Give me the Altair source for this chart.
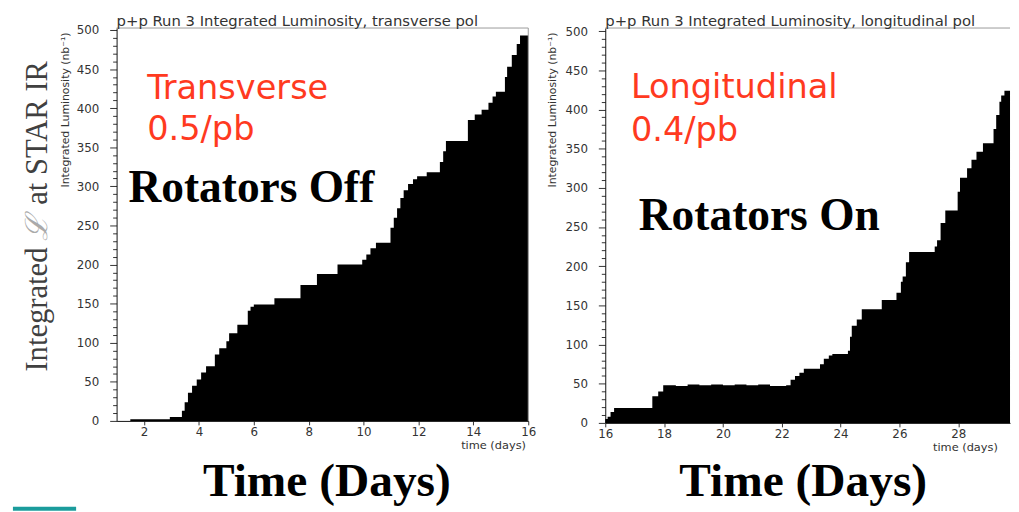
import altair as alt
import pandas as pd

# ---------------- data ----------------
# Transverse polarisation run (left panel): step start day, integrated luminosity (nb^-1)
trans_day = [1.50, 2.94, 3.38, 3.48, 3.60, 3.75, 3.92, 4.08, 4.26, 4.58,
             4.74, 5.00, 5.10, 5.40, 5.78, 5.88, 6.00, 6.75, 7.70, 8.30,
             9.05, 9.95, 10.10, 10.25, 10.45, 10.98, 11.10, 11.22, 11.34, 11.46,
             11.62, 11.80, 11.95, 12.30, 12.78, 12.90, 13.00, 13.80, 14.05, 14.30,
             14.55, 14.70, 14.82, 15.15, 15.23, 15.40, 15.58, 15.70, 16.00]
trans_lumi = [2, 5, 13, 24, 36, 45, 53, 62, 70, 85,
              93, 102, 112, 123, 141, 146, 149, 157, 174, 188,
              200, 206, 213, 221, 228, 247, 260, 272, 285, 295,
              303, 309, 313, 318, 331, 345, 358, 385, 392, 398,
              407, 415, 421, 440, 453, 468, 482, 493, 493]

# Longitudinal polarisation run (right panel)
long_day = [16.00, 16.08, 16.18, 16.30, 17.60, 17.80, 17.97, 18.40, 18.80, 19.20,
            19.60, 20.00, 20.40, 20.80, 21.20, 21.60, 22.15, 22.30, 22.45, 22.60,
            22.75, 23.30, 23.43, 23.60, 23.72, 24.25, 24.32, 24.38, 24.55, 24.72,
            25.40, 25.90, 26.05, 26.11, 26.22, 26.33, 27.20, 27.28, 27.40, 27.56,
            27.98, 28.06, 28.30, 28.45, 28.62, 28.84, 29.20, 29.29, 29.40, 29.46,
            29.57, 29.76]
long_lumi = [5, 8, 14, 19, 34, 40, 48, 47, 49, 48,
             49, 48, 49, 48, 49, 47, 48, 55, 60, 64,
             69, 75, 82, 86, 88, 92, 110, 124, 132, 145,
             157, 166, 180, 187, 205, 218, 225, 233, 255, 271,
             295, 313, 325, 336, 346, 357, 375, 393, 410, 418,
             424, 424]

# axis ticks and texts
y_ticks = list(range(0, 501, 10))
trans_x_ticks = [2, 4, 6, 8, 10, 12, 14, 16]
long_x_ticks = [16, 18, 20, 22, 24, 26, 28]

trans_title = "p+p Run 3 Integrated Luminosity, transverse pol"
long_title = "p+p Run 3 Integrated Luminosity, longitudinal pol"
trans_tag = ["Transverse", "0.5/pb"]
long_tag = ["Longitudinal", "0.4/pb"]
trans_note = "Rotators Off"
long_note = "Rotators On"
root_y_title = "Integrated Luminosity (nb\u207b\u00b9)"
root_x_title = "time (days)"
slide_x_title = "Time (Days)"
slide_y_title = ["Integrated", "\u2112", "at STAR IR"]

RED = "#ff3a1f"
ONE = alt.Data(values=[{}])


def text_layer(txt, x, y, size, color="black", font="DejaVu Sans", weight="normal",
               align="left", angle=0, style="normal"):
    kw = dict(align=align, baseline="alphabetic", font=font, fontSize=size,
              fontWeight=weight, color=color, fontStyle=style)
    if angle:
        kw["angle"] = angle
    return alt.Chart(ONE).mark_text(**kw).encode(
        x=alt.value(x), y=alt.value(y), text=alt.value(txt))


def panel(days, lumi, x_domain, y_domain, w, h, x_ticks, title, tag, note, note_xy,
          tag_x, tag_y, time_x, big_x, big_y, ytitle_x, right_frame):
    df = pd.DataFrame({"day": days, "lumi": lumi})
    area = alt.Chart(df).mark_area(interpolate="step-after", color="black").encode(
        x=alt.X("day:Q",
                scale=alt.Scale(domain=x_domain, nice=False, zero=False),
                axis=alt.Axis(values=x_ticks, grid=False, tickSize=4, tickColor="#333",
                              domainColor="#111", labelFont="DejaVu Sans", labelFontSize=12,
                              labelColor="#333", labelPadding=2, labelFlush=False,
                              title=slide_x_title, titleFont="Liberation Serif",
                              titleFontSize=48, titleFontWeight="bold", titleColor="black",
                              titleX=big_x, titleY=big_y, titleAlign="center",
                              titleBaseline="alphabetic")),
        y=alt.Y("lumi:Q",
                scale=alt.Scale(domain=y_domain, nice=False),
                axis=alt.Axis(values=y_ticks, grid=False,
                              tickSize={"condition": {"test": "datum.value % 50 === 0", "value": 7}, "value": 4},
                              tickColor="#333", domainColor="#111",
                              labelExpr="datum.value % 50 === 0 ? datum.label : ''",
                              labelFont="DejaVu Sans", labelFontSize=12, labelColor="#333",
                              labelPadding=11, labelFlush=False,
                              title=root_y_title, titleFont="DejaVu Sans", titleFontSize=11,
                              titleFontWeight="normal", titleColor="#333",
                              titleX=ytitle_x, titleY=4, titleAngle=270, titleAlign="right",
                              titleBaseline="alphabetic")),
    )
    layers = [area,
              alt.Chart(ONE).mark_rule(color="#999", strokeWidth=1).encode(y=alt.value(0))]
    if right_frame:
        layers.append(alt.Chart(ONE).mark_rule(color="#999", strokeWidth=1).encode(x=alt.value(w)))
    layers += [
        text_layer(title, 0, -2, 15, color="#333"),
        text_layer(tag[0], tag_x, tag_y[0], 34, color=RED),
        text_layer(tag[1], tag_x, tag_y[1], 34, color=RED),
        text_layer(note, note_xy[0], note_xy[1], 46, font="Liberation Serif", weight="bold"),
        text_layer(root_x_title, time_x, h + 28, 11.5, color="#333"),
    ]
    return layers


left_layers = panel(trans_day, trans_lumi, [1, 16], [0, 502.5], 417, 398, trans_x_ticks,
                    trans_title, trans_tag, trans_note, (12, 176), 31, (72, 113),
                    349, 212.5, 76, -49, True)
# slide-level y title and decoration (left panel only)
left_layers += [
    text_layer(slide_y_title[0], -71, 348, 31, color="#404040", font="Liberation Serif", angle=270),
    text_layer(slide_y_title[1], -71, 203, 31, color="#aaaaaa", font="DejaVu Serif",
               align="center", angle=270, style="italic"),
    text_layer(slide_y_title[2], -71, 179, 31, color="#404040", font="Liberation Serif", angle=270),
    alt.Chart(ONE).mark_rule(color="#1b9c9c", strokeWidth=4).encode(
        x=alt.value(-105), x2=alt.value(-41), y=alt.value(487)),
]
left = alt.layer(*left_layers).properties(width=417, height=398)

right_layers = panel(long_day, long_lumi, [16, 29.76], [0, 504], 410, 400, long_x_ticks,
                     long_title, long_tag, long_note, (34, 205), 26, (71, 114),
                     332, 200, 74, -50, False)
right = alt.layer(*right_layers).properties(width=410, height=400)

chart = alt.hconcat(left, right, spacing=78, bounds="flush").properties(
    padding={"left": 3, "top": 3, "right": 0, "bottom": 0}
).configure_view(stroke=None)

chart.save("out.html", embed_options={"renderer": "svg", "actions": False})
